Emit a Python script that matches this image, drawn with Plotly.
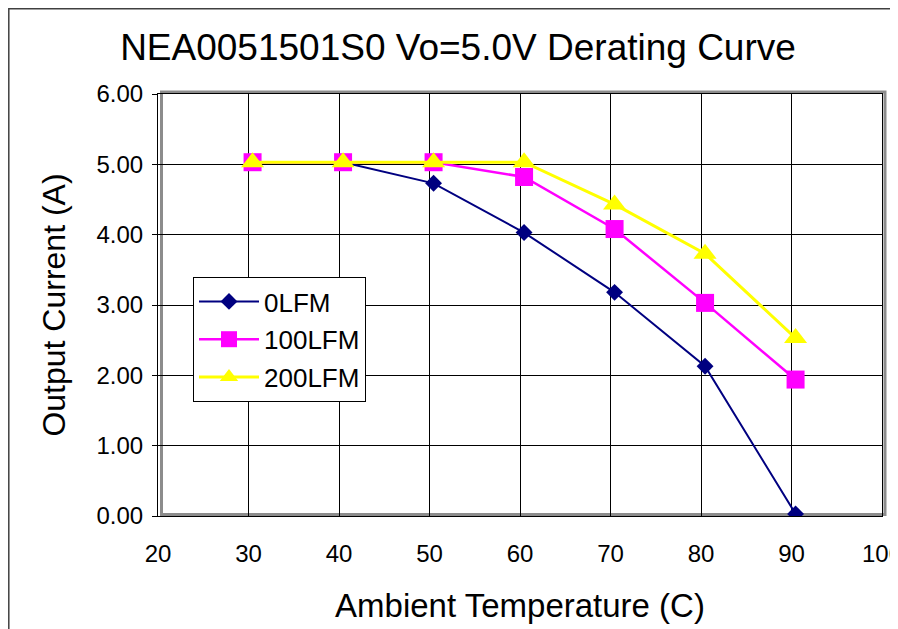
import plotly.graph_objects as go

# Data
temps = [30.45, 40.45, 50.45, 60.45, 70.45, 80.45, 90.45]
lfm0 = [5.03, 5.03, 4.73, 4.03, 3.18, 2.13, 0.03]
lfm100 = [5.03, 5.03, 5.03, 4.82, 4.08, 3.03, 1.94]
lfm200 = [5.03, 5.03, 5.03, 5.03, 4.43, 3.73, 2.53]
series_names = ["0LFM", "100LFM", "200LFM"]
x_ticks = [20, 30, 40, 50, 60, 70, 80, 90, 100]
y_ticks = [0, 1, 2, 3, 4, 5, 6]

FONT = "Liberation Sans, Arial, sans-serif"
OFF = 8  # page body margin of the browser
W, H = 898 - OFF, 629 - OFF
L, R, T, B = 158 - OFF, 882 - OFF, 94 - OFF, 516 - OFF

fig = go.Figure()
styles = [
    dict(color="#000080", symbol="diamond", size=13, lw=2),
    dict(color="#FF00FF", symbol="square", size=18, lw=2.5),
    dict(color="#FFFF00", symbol="triangle-up", size=20, lw=3),
]
for name, ys, st in zip(series_names, [lfm0, lfm100, lfm200], styles):
    fig.add_trace(go.Scatter(
        x=temps, y=ys, name=name, mode="lines+markers",
        line=dict(color=st["color"], width=st["lw"]),
        marker=dict(symbol=st["symbol"], size=st["size"], color=st["color"],
                    line=dict(width=0)),
        legendgroup=name,
    ))

def px2x(px):
    return (px - OFF - L) / (R - L)

def py2y(py):
    return (B - (py - OFF)) / (B - T)

shapes = [
    # grey shadow border of the plot area
    dict(type="rect", xref="paper", yref="paper",
         x0=px2x(161.5), x1=px2x(885), y0=py2y(514.5), y1=py2y(92),
         line=dict(color="#8c8c8c", width=3), layer="below"),
    # outer chart border
    dict(type="rect", xref="paper", yref="paper",
         x0=px2x(OFF + 0.8), x1=px2x(896), y0=py2y(660), y1=py2y(OFF + 0.8),
         line=dict(color="#404040", width=1.5), layer="below"),
]

fig.update_layout(
    width=W, height=H,
    margin=dict(l=L, r=W - R, t=T, b=H - B, pad=0),
    paper_bgcolor="white", plot_bgcolor="white",
    font=dict(family=FONT, color="black", size=24),
    title=dict(text="NEA0051501S0 Vo=5.0V Derating Curve",
               x=(458 - OFF) / W, xanchor="center", xref="container",
               y=1 - (47 - OFF) / H, yanchor="middle", yref="container",
               font=dict(size=37, family=FONT, color="black")),
    showlegend=True,
    legend=dict(x=px2x(193), y=py2y(277), xanchor="left", yanchor="top",
                bgcolor="white", bordercolor="black", borderwidth=1,
                font=dict(size=26, family=FONT, color="black"),
                tracegroupgap=1, traceorder="grouped",
                itemwidth=60),
    shapes=shapes,
)
fig.update_xaxes(
    range=[20, 100], tickvals=x_ticks, ticktext=[str(v) for v in x_ticks],
    showgrid=True, gridcolor="black", gridwidth=1,
    showline=True, linecolor="black", linewidth=1, mirror=True,
    ticks="", zeroline=False, ticklabelstandoff=16, automargin=False,
    ticklabeloverflow="allow",
    tickfont=dict(size=24, family=FONT, color="black"),
    title=dict(text="Ambient Temperature (C)", standoff=28,
               font=dict(size=33, family=FONT, color="black")),
)
fig.update_yaxes(
    range=[0, 6], tickvals=y_ticks, tickformat=".2f",
    showgrid=True, gridcolor="black", gridwidth=1,
    showline=True, linecolor="black", linewidth=1, mirror=True,
    ticks="outside", ticklen=5, tickcolor="black", zeroline=False,
    ticklabelstandoff=4, automargin=False,
    tickfont=dict(size=24, family=FONT, color="black"),
    title=dict(text="Output Current (A)", standoff=21,
               font=dict(size=32, family=FONT, color="black")),
)

fig.write_html("out.html")
